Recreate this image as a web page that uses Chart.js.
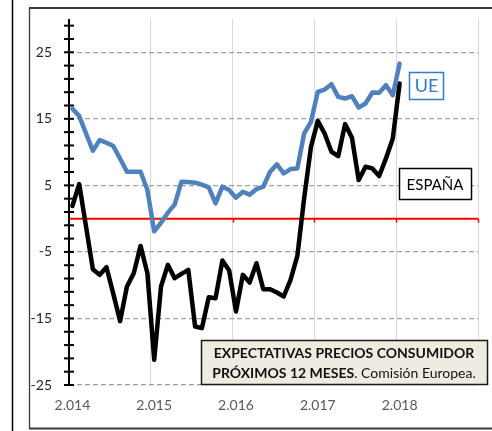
<!DOCTYPE html>
<html><head><meta charset="utf-8">
<script src="https://cdn.jsdelivr.net/npm/chart.js@4/dist/chart.umd.min.js"></script>
<style>html,body{margin:0;padding:0;background:#fff;} canvas{display:block;}</style>
</head><body>
<canvas id="c" width="492" height="431"></canvas>
<script>
// ---- DATA ----
const months = ['2014-01','2014-02','2014-03','2014-04','2014-05','2014-06','2014-07','2014-08','2014-09','2014-10','2014-11','2014-12',
'2015-01','2015-02','2015-03','2015-04','2015-05','2015-06','2015-07','2015-08','2015-09','2015-10','2015-11','2015-12',
'2016-01','2016-02','2016-03','2016-04','2016-05','2016-06','2016-07','2016-08','2016-09','2016-10','2016-11','2016-12',
'2017-01','2017-02','2017-03','2017-04','2017-05','2017-06','2017-07','2017-08','2017-09','2017-10','2017-11','2017-12',
'2018-01'];
const ue = [16.5,15.4,12.8,10.2,11.8,11.4,10.9,9.0,7.05,7.05,7.05,4.3,
-1.9,-0.6,0.9,2.1,5.55,5.5,5.4,5.1,4.7,2.3,4.8,4.3,
3.15,4.05,3.6,4.45,4.8,7.05,8.15,6.8,7.45,7.55,12.8,14.55,
19.05,19.4,20.2,18.3,18.05,18.4,16.7,17.3,18.95,18.9,20.05,18.55,
23.3];
const espana = [1.9,5.2,-1.2,-7.6,-8.45,-7.3,-11.3,-15.4,-10.2,-8.2,-4.1,-8.2,
-21.2,-10.2,-6.95,-8.95,-8.3,-7.7,-16.2,-16.45,-11.8,-11.95,-6.3,-7.8,
-13.95,-8.45,-9.6,-6.7,-10.6,-10.6,-11.1,-11.7,-9.2,-5.6,3.1,10.8,
14.7,12.8,10.05,9.4,14.2,12.2,5.8,7.8,7.55,6.4,9.05,12.05,
20.3];
const seriesNames = ['UE','ESPAÑA'];
const xTickLabels = ['2.014','2.015','2.016','2.017','2.018'];
const yTickLabels = [-25,-15,-5,5,15,25];
const yMin = -25, yMax = 30, yMinorStep = 2;
const titleLine1 = 'EXPECTATIVAS PRECIOS CONSUMIDOR';
const titleLine2Bold = 'PRÓXIMOS 12 MESES';
const titleLine2Rest = '. Comisión Europea.';

const FONT = 'Lato, "Open Sans", sans-serif';
const isYearGrid = v => Math.abs(((v + 0.5) % 12)) < 1e-6;

const deco = {
  id: 'deco',
  beforeDraw(chart) {
    const c = chart.ctx;
    c.save();
    c.fillStyle = '#fff';
    c.fillRect(0, 0, chart.width, chart.height);
    c.strokeStyle = '#000';
    c.lineWidth = 1.5;
    c.beginPath(); c.moveTo(12.5, 0); c.lineTo(12.5, 431); c.stroke();
    c.strokeStyle = '#3a3a3a';
    c.lineWidth = 2;
    c.beginPath(); c.moveTo(29, 8); c.lineTo(492, 8); c.stroke();
    c.beginPath(); c.moveTo(29, 428.5); c.lineTo(492, 428.5); c.stroke();
    c.lineWidth = 1.3;
    c.beginPath(); c.moveTo(29.5, 8); c.lineTo(29.5, 429); c.stroke();
    c.restore();
  },
  beforeDatasetsDraw(chart) {
    const c = chart.ctx, xs = chart.scales.x, ys = chart.scales.y, a = chart.chartArea;
    c.save();
    const y0 = ys.getPixelForValue(0);
    c.strokeStyle = '#FF0000';
    c.lineWidth = 2;
    c.beginPath(); c.moveTo(a.left, y0); c.lineTo(a.right, y0); c.stroke();
    for (let v = 11.5; v <= xs.max + 1e-6; v += 12) {
      const px = Math.round(xs.getPixelForValue(v)) + 0.5;
      c.lineWidth = 1.5;
      c.beginPath(); c.moveTo(px, y0); c.lineTo(px, y0 + 4); c.stroke();
    }
    // y axis with crossing ticks
    const ax = Math.round(xs.getPixelForValue(xs.min));
    c.strokeStyle = '#000';
    c.lineWidth = 2;
    c.beginPath(); c.moveTo(ax, a.top); c.lineTo(ax, a.bottom); c.stroke();
    for (let v = yMin; v < yMax; v += yMinorStep) {
      const py = ys.getPixelForValue(v);
      c.beginPath(); c.moveTo(ax - 5, py); c.lineTo(ax + 5, py); c.stroke();
    }
    c.restore();
  },
  afterDraw(chart) {
    const c = chart.ctx;
    c.save();
    // UE label box
    c.fillStyle = '#fff';
    c.fillRect(409, 72, 34, 27);
    c.strokeStyle = '#2E7BCF'; c.lineWidth = 1.5;
    c.strokeRect(409.5, 72.5, 34, 27);
    c.fillStyle = '#2E7BCF';
    c.font = '18px ' + FONT;
    c.textAlign = 'center'; c.textBaseline = 'middle';
    c.fillText(seriesNames[0], 426.5, 86.5);
    // ESPAÑA label box
    c.fillStyle = '#fff';
    c.fillRect(399, 168, 72, 31);
    c.strokeStyle = '#000'; c.lineWidth = 1.5;
    c.strokeRect(399.5, 168.5, 72, 31);
    c.fillStyle = '#000';
    c.font = '15px ' + FONT;
    c.fillText(seriesNames[1], 435, 185);
    // annotation
    c.fillStyle = '#EEECE1';
    c.fillRect(201, 340, 287, 44);
    c.strokeStyle = '#1a1a1a'; c.lineWidth = 1.5;
    c.strokeRect(201.5, 340.5, 286, 44);
    c.fillStyle = '#111';
    c.font = 'bold 14px ' + FONT;
    c.textAlign = 'center';
    c.fillText(titleLine1, 344, 353);
    const wb = c.measureText(titleLine2Bold).width;
    c.font = '14px ' + FONT;
    const wr = c.measureText(titleLine2Rest).width;
    let sx = 344 - (wb + wr) / 2;
    c.textAlign = 'left';
    c.font = 'bold 14px ' + FONT;
    c.fillText(titleLine2Bold, sx, 373);
    c.font = '14px ' + FONT;
    c.fillText(titleLine2Rest, sx + wb, 373);
    c.restore();
  }
};

function build() {
  new Chart(document.getElementById('c').getContext('2d'), {
    type: 'line',
    data: {
      labels: months,
      datasets: [
        { label: seriesNames[0], data: ue.map((v, i) => ({ x: i, y: v })), borderColor: '#4F81BD', borderWidth: 4.5,
          pointRadius: 0, tension: 0, borderJoinStyle: 'round', borderCapStyle: 'round', fill: false },
        { label: seriesNames[1], data: espana.map((v, i) => ({ x: i, y: v })), borderColor: '#000000', borderWidth: 4.5,
          pointRadius: 0, tension: 0, borderJoinStyle: 'round', borderCapStyle: 'round', fill: false }
      ]
    },
    options: {
      responsive: false, animation: false, devicePixelRatio: 1,
      layout: { padding: { left: 0, top: 19, right: 14, bottom: 0 } },
      plugins: { legend: { display: false }, tooltip: { enabled: false } },
      scales: {
        x: {
          type: 'linear', min: -0.5, max: 59.5,
          afterFit(s) { s.height = 46; s.paddingLeft = 0; s.paddingRight = 0; },
          afterBuildTicks(s) {
            const t = [];
            for (let k = 0; k <= 5; k++) {
              t.push({ value: -0.5 + 12 * k });
              if (k < xTickLabels.length) t.push({ value: 12 * k });
            }
            s.ticks = t;
          },
          grid: { drawTicks: false, lineWidth: 1, color: ctx => (ctx.tick && isYearGrid(ctx.tick.value)) ? '#D9D9D9' : 'rgba(0,0,0,0)' },
          border: { display: false },
          ticks: {
            autoSkip: false, maxRotation: 0, minRotation: 0, padding: 12, color: '#595959',
            font: { family: FONT, size: 14 },
            callback: v => (v >= 0 && v % 12 === 0) ? xTickLabels[v / 12] : ''
          }
        },
        y: {
          min: yMin, max: yMax,
          afterFit(s) { s.width = 69; s.paddingTop = 0; s.paddingBottom = 0; },
          afterBuildTicks(s) { s.ticks = yTickLabels.map(v => ({ value: v })); },
          grid: { drawTicks: false, color: '#A0A0A0', lineWidth: 1.3 },
          border: { display: false, dash: [5, 3] },
          ticks: { padding: 17, color: '#262626', font: { family: FONT, size: 14 } }
        }
      }
    },
    plugins: [deco]
  });
}
if (document.fonts && document.fonts.load) {
  Promise.all([document.fonts.load('14px Lato'), document.fonts.load('bold 13px Lato')]).then(build, build);
} else build();
</script>
</body></html>
